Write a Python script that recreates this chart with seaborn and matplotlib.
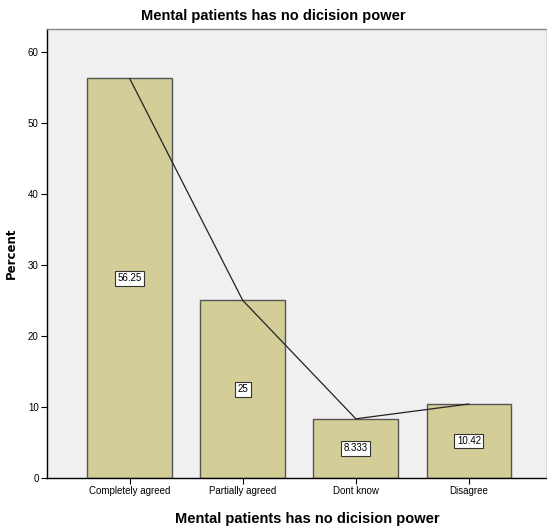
import pandas as pd
import seaborn as sns
import matplotlib.pyplot as plt

categories = ["Completely agreed", "Partially agreed", "Dont know", "Disagree"]
percent = [56.25, 25, 8.333, 10.42]
labels = ["56.25", "25", "8.333", "10.42"]

df = pd.DataFrame({"answer": categories, "percent": percent})

sns.set_style("white")
plt.rcParams['font.family'] = ['Liberation Sans Narrow', 'Liberation Sans', 'DejaVu Sans']
plt.rcParams['text.color'] = 'black'
plt.rcParams['axes.labelcolor'] = 'black'
plt.rcParams['xtick.color'] = 'black'
plt.rcParams['ytick.color'] = 'black'

fig = plt.figure(figsize=(5.47, 5.31), dpi=100)
ax = fig.add_axes([0.086, 0.0998, 0.914, 0.8456])
ax.set_facecolor("#f0f0f0")

sns.barplot(data=df, x="answer", y="percent", color="#d3ce97", saturation=1,
            width=0.75, edgecolor="#555555", linewidth=1, ax=ax)
sns.lineplot(x=list(range(len(categories))), y=percent, color="#222222",
             linewidth=0.9, ax=ax)

for i, (v, lab) in enumerate(zip(percent, labels)):
    ax.text(i, v / 2, lab, ha="center", va="center", fontsize=7,
            bbox=dict(boxstyle="square,pad=0.25", fc="white", ec="#333333", lw=0.8))

ax.set_xlim(-0.73, 3.69)
ax.set_ylim(0, 63.2)
ax.set_yticks([0, 10, 20, 30, 40, 50, 60])
ax.tick_params(axis="both", labelsize=7, length=4, width=0.8, direction="out",
               bottom=True, left=True, pad=2)
ax.set_xlabel("Mental patients has no dicision power", fontsize=10.5, fontweight="bold")
ax.xaxis.set_label_coords(0.52, -0.075)
ax.set_ylabel("Percent", fontsize=8.5, fontweight="bold", labelpad=7,
              family="DejaVu Sans")
fig.suptitle("Mental patients has no dicision power", fontsize=10.5, fontweight="bold",
             x=0.5, y=0.983, va="top")

for s in ["left", "bottom"]:
    ax.spines[s].set_color("black")
    ax.spines[s].set_linewidth(1)
for s in ["top", "right"]:
    ax.spines[s].set_color("#888888")
    ax.spines[s].set_linewidth(1)

fig.savefig("out.png", dpi=100)
